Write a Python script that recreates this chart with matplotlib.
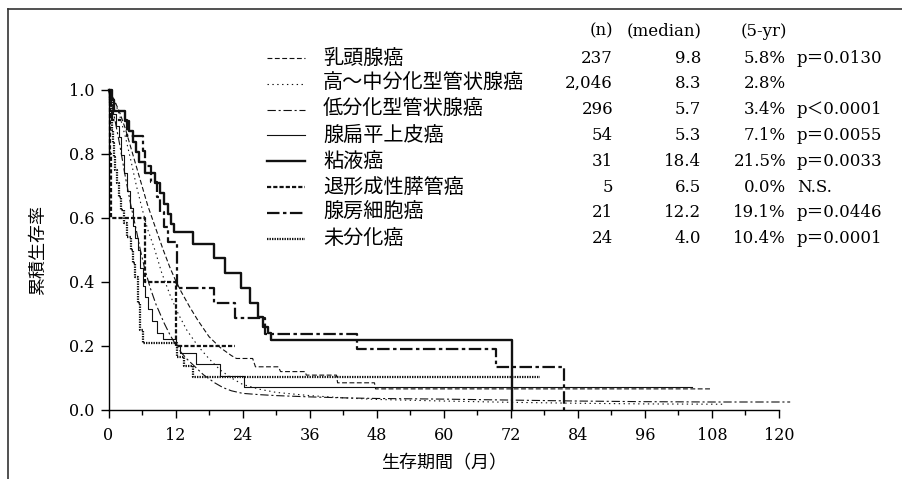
import matplotlib
matplotlib.use('Agg')
import matplotlib.pyplot as plt
from matplotlib.ticker import MultipleLocator

plt.rcParams['lines.scale_dashes'] = False
JP = ['Noto Sans CJK JP', 'DejaVu Sans']
NUM = ['DejaVu Serif', 'Noto Sans CJK JP']

# 組織型ごとの表
groups = ['乳頭腺癌', '高〜中分化型管状腺癌', '低分化型管状腺癌', '腺扁平上皮癌',
          '粘液癌', '退形成性膵管癌', '腺房細胞癌', '未分化癌']
n_cases = ['237', '2,046', '296', '54', '31', '5', '21', '24']
medians = ['9.8', '8.3', '5.7', '5.3', '18.4', '6.5', '12.2', '4.0']
yr5 = ['5.8%', '2.8%', '3.4%', '7.1%', '21.5%', '0.0%', '19.1%', '10.4%']
pvals = ['p＝0.0130', '', 'p＜0.0001', 'p＝0.0055', 'p＝0.0033', 'N.S.', 'p＝0.0446', 'p＝0.0001']

# 生存曲線 (月, 累積生存率)
t_pap = [0, 1, 2, 3, 4, 5, 6, 7, 8, 9, 9.8, 11, 12, 13, 14.5, 16, 18, 20, 22, 22.9,
         25.8, 26.3, 30.4, 30.8, 35.2, 35.4, 40.8, 41.0, 47.6, 47.8, 108]
s_pap = [1, 0.97, 0.93, 0.88, 0.82, 0.76, 0.70, 0.64, 0.59, 0.54, 0.5, 0.445, 0.405, 0.37,
         0.323, 0.28, 0.229, 0.195, 0.17, 0.161, 0.161, 0.135, 0.135, 0.12, 0.12, 0.109,
         0.109, 0.085, 0.085, 0.066, 0.066]

t_well = [0, 1, 2, 3, 4, 5, 6, 7, 8.3, 9.5, 11, 12.5, 14, 16, 18, 20, 22, 24, 27, 30,
          36, 42, 48, 60, 72, 84, 96, 110]
s_well = [1, 0.97, 0.92, 0.855, 0.78, 0.70, 0.63, 0.565, 0.5, 0.43, 0.36, 0.30, 0.25,
          0.2, 0.16, 0.125, 0.1, 0.08, 0.065, 0.055, 0.045, 0.038, 0.033, 0.028, 0.024,
          0.021, 0.019, 0.018]

t_por = [0, 0.5, 1, 2, 3, 4, 5, 5.7, 6.5, 7.5, 8.5, 10, 11, 12, 13, 14, 15.5, 17, 19,
         20.5, 22, 24, 27, 30, 36, 42, 48, 60, 72, 84, 96, 108, 122]
s_por = [1, 0.96, 0.92, 0.83, 0.73, 0.64, 0.56, 0.5, 0.44, 0.38, 0.33, 0.27, 0.235,
         0.205, 0.18, 0.16, 0.135, 0.11, 0.085, 0.07, 0.06, 0.052, 0.048, 0.045, 0.041,
         0.038, 0.036, 0.034, 0.031, 0.028, 0.026, 0.025, 0.025]

t_ads = [0, 0.4, 0.8, 1.3, 1.8, 2.3, 2.8, 3.3, 3.8, 4.3, 4.8, 5.3, 5.7, 6.1, 6.5, 7.0,
         7.8, 8.7, 9.8, 12.0, 12.8, 15.6, 20.0, 24.2, 104.5]
s_ads = [1.0, 0.963, 0.926, 0.889, 0.852, 0.796, 0.741, 0.685, 0.63, 0.574, 0.537, 0.5,
         0.444, 0.389, 0.352, 0.315, 0.278, 0.241, 0.222, 0.203, 0.177, 0.144, 0.106,
         0.073, 0.073]

t_muc = [0, 0.6, 1.0, 3.0, 3.6, 4.4, 5.0, 5.5, 6.5, 8.3, 9.3, 10.0, 10.6, 11.2, 11.8,
         15.2, 18.8, 20.8, 23.8, 25.3, 26.8, 27.7, 28.6, 29.1, 72.3]
s_muc = [1.0, 0.968, 0.935, 0.903, 0.871, 0.839, 0.806, 0.774, 0.742, 0.71, 0.677,
         0.645, 0.613, 0.581, 0.557, 0.519, 0.474, 0.427, 0.38, 0.333, 0.292, 0.258,
         0.24, 0.219, 0.0]

t_ana = [0, 0.2, 0.5, 6.5, 12.1, 22.6]
s_ana = [1.0, 0.8, 0.6, 0.4, 0.2, 0.2]

t_aci = [0, 0.3, 0.6, 3.3, 6.2, 6.6, 7.6, 8.6, 9.2, 9.9, 10.6, 12.2, 18.9, 22.7, 28.0,
         44.5, 69.3, 81.6]
s_aci = [1.0, 0.952, 0.905, 0.857, 0.81, 0.762, 0.714, 0.667, 0.619, 0.571, 0.524,
         0.381, 0.333, 0.286, 0.238, 0.19, 0.133, 0.0]

t_und = [0, 0.2, 0.4, 0.6, 0.8, 1.0, 1.2, 1.5, 1.8, 2.2, 2.7, 3.3, 4.0, 4.4, 4.8, 5.2,
         5.6, 6.1, 12.3, 13.5, 15.1, 77.2]
s_und = [1.0, 0.958, 0.917, 0.875, 0.833, 0.792, 0.75, 0.708, 0.667, 0.625, 0.583,
         0.542, 0.5, 0.458, 0.417, 0.333, 0.25, 0.208, 0.167, 0.139, 0.104, 0.104]

curves = [(t_pap, s_pap, 'default'), (t_well, s_well, 'default'), (t_por, s_por, 'default'),
          (t_ads, s_ads, 'steps-post'), (t_muc, s_muc, 'steps-post'),
          (t_ana, s_ana, 'steps-post'), (t_aci, s_aci, 'steps-post'),
          (t_und, s_und, 'steps-post')]

# 線幅と線種
styles = [(0.8, (0, (3.5, 1.8))),
          (0.8, (0, (1, 2.5))),
          (0.8, (0, (6, 2, 1.5, 2))),
          (0.8, '-'),
          (1.7, '-'),
          (1.6, (0, (3, 1.5))),
          (1.6, (0, (9, 2.5, 2.5, 2.5))),
          (1.6, (0, (1, 0.8)))]

fig = plt.figure(figsize=(9.02, 4.79), dpi=100)

ax = fig.add_axes([108.5 / 902, 69 / 479, 670.5 / 902, 320 / 479])
ax.set_facecolor('none')
for (t, s, ds), (lw, ls) in zip(curves, styles):
    ax.plot(t, s, drawstyle=ds, color='#111111', lw=lw, ls=ls, clip_on=False)

ax.set_xlim(0, 120)
ax.set_ylim(0, 1.0)
for sp in ['top', 'right']:
    ax.spines[sp].set_visible(False)
for sp in ['left', 'bottom']:
    ax.spines[sp].set_linewidth(1.0)
ax.xaxis.set_major_locator(MultipleLocator(12))
ax.xaxis.set_minor_locator(MultipleLocator(6))
ax.yaxis.set_major_locator(MultipleLocator(0.2))
ax.tick_params(which='major', direction='out', length=6, width=1, pad=4, labelsize=11.5)
ax.tick_params(axis='x', which='major', pad=6)
ax.tick_params(which='minor', direction='out', length=3.5, width=1)
ax.set_xticks(range(0, 121, 12))
ax.set_xticklabels([str(v) for v in range(0, 121, 12)], fontfamily=NUM)
ax.set_yticks([0, 0.2, 0.4, 0.6, 0.8, 1.0])
ax.set_yticklabels(['0.0', '0.2', '0.4', '0.6', '0.8', '1.0'], fontfamily=NUM)

fig.text(38 / 902, 1 - 250 / 479, '累積生存率', rotation=90, ha='center', va='center',
         fontsize=13, family=JP)
fig.text(444 / 902, 1 - 463 / 479, '生存期間（月）', ha='center', va='center',
         fontsize=13, family=JP)

# 凡例と表 (ピクセル座標)
ov = fig.add_axes([0, 0, 1, 1], zorder=5)
ov.set_facecolor('none')
ov.set_xlim(0, 902)
ov.set_ylim(479, 0)
ov.axis('off')

ov.plot([7.5, 902], [9, 9], color='#333333', lw=1.2)
ov.plot([7.5, 7.5], [9, 479], color='#333333', lw=1.2)

y_head = 31
ov.text(613, y_head, '(n)', ha='right', va='center', fontsize=12, family=NUM)
ov.text(702, y_head, '(median)', ha='right', va='center', fontsize=12, family=NUM)
ov.text(787, y_head, '(5-yr)', ha='right', va='center', fontsize=12, family=NUM)

for i, name in enumerate(groups):
    y = 58 + 25.8 * i
    lw, ls = styles[i]
    ov.plot([267, 305], [y, y], color='#111111', lw=lw, ls=ls)
    ov.text(323, y, name, ha='left', va='center', fontsize=14.5, family=JP)
    ov.text(613, y, n_cases[i], ha='right', va='center', fontsize=12, family=NUM)
    ov.text(701, y, medians[i], ha='right', va='center', fontsize=12, family=NUM)
    ov.text(786, y, yr5[i], ha='right', va='center', fontsize=12, family=NUM)
    ov.text(797, y, pvals[i], ha='left', va='center', fontsize=12, family=NUM)

fig.savefig('out.png', dpi=100)
